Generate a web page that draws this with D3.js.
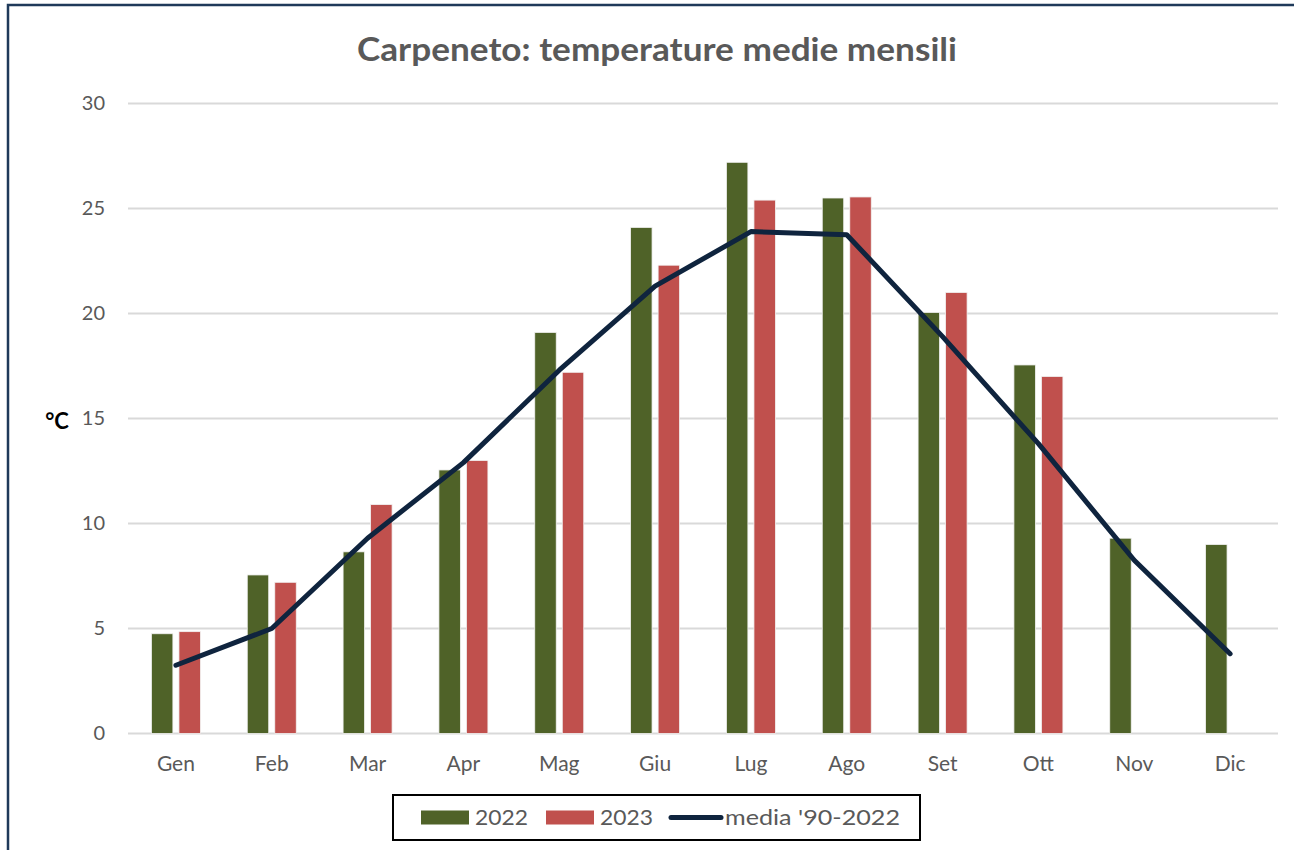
<!DOCTYPE html>
<html>
<head>
<meta charset="utf-8">
<script src="https://cdn.jsdelivr.net/npm/d3@7"></script>
<style>
  body { margin: 0; background: #fff; }
  svg { display: block; }
</style>
</head>
<body>
<script>
// monthly mean temperatures, Carpeneto
var months = ['Gen', 'Feb', 'Mar', 'Apr', 'Mag', 'Giu', 'Lug', 'Ago', 'Set', 'Ott', 'Nov', 'Dic'];
var t2022 = [4.75, 7.55, 8.65, 12.55, 19.1, 24.1, 27.2, 25.5, 20.05, 17.55, 9.3, 9.0];
var t2023 = [4.85, 7.2, 10.9, 13.0, 17.2, 22.3, 25.4, 25.55, 21.0, 17.0, null, null];
var media = [3.25, 5.0, 9.3, 12.9, 17.3, 21.3, 23.9, 23.75, 18.9, 13.8, 8.25, 3.8];
var yTicks = [0, 5, 10, 15, 20, 25, 30];

var chart = {
  width: 1294,
  height: 850,
  left: 128,
  right: 1278,
  top: 103.5,
  bottom: 733.5
};

var svg = d3.select('body').append('svg')
  .attr('width', chart.width)
  .attr('height', chart.height);

// outer frame (runs off the right and bottom edge)
svg.append('rect')
  .attr('x', 8).attr('y', 5)
  .attr('width', chart.width + 20).attr('height', chart.height + 20)
  .attr('fill', 'none').attr('stroke', '#1f3a5a').attr('stroke-width', 2.5);

svg.append('text')
  .attr('x', 657).attr('y', 61)
  .attr('text-anchor', 'middle')
  .attr('font-family', 'Lato, sans-serif')
  .attr('font-weight', 'bold')
  .attr('font-size', 33)
  .attr('fill', '#595959')
  .attr('textLength', 600)
  .attr('lengthAdjust', 'spacingAndGlyphs')
  .text('Carpeneto: temperature medie mensili');

var x0 = d3.scaleBand().domain(months).range([chart.left, chart.right]);
var x1 = d3.scaleBand().domain(['2022', '2023']).range([-24.5, 24.5]).paddingInner(0.22);
var y = d3.scaleLinear().domain([0, 30]).range([chart.bottom, chart.top]);

// gridlines
svg.append('g').selectAll('line')
  .data(yTicks)
  .enter().append('line')
  .attr('x1', chart.left).attr('x2', chart.right)
  .attr('y1', function(d) { return y(d); })
  .attr('y2', function(d) { return y(d); })
  .attr('stroke', '#d9d9d9').attr('stroke-width', 2);

var yAxis = svg.append('g')
  .attr('transform', 'translate(' + (chart.left - 23) + ',0)')
  .call(d3.axisLeft(y).tickValues(yTicks).tickSize(0).tickPadding(0));
yAxis.select('.domain').remove();
yAxis.selectAll('text')
  .attr('font-family', 'Lato, sans-serif')
  .attr('font-size', 20)
  .attr('fill', '#595959');

var xAxis = svg.append('g')
  .attr('transform', 'translate(0,' + chart.bottom + ')')
  .call(d3.axisBottom(x0).tickSize(0).tickPadding(23));
xAxis.select('.domain').remove();
xAxis.selectAll('text')
  .attr('font-family', 'Lato, sans-serif')
  .attr('font-size', 21)
  .attr('fill', '#595959');

svg.append('text')
  .attr('x', 57).attr('y', 429)
  .attr('text-anchor', 'middle')
  .attr('font-family', 'Lato, sans-serif')
  .attr('font-weight', 'bold')
  .attr('font-size', 22)
  .attr('fill', '#000')
  .text('°C');

var series = [
  { key: '2022', values: t2022, color: '#4f6228' },
  { key: '2023', values: t2023, color: '#c0504d' }
];

series.forEach(function(s) {
  svg.append('g').selectAll('rect')
    .data(months.map(function(m, i) { return { m: m, v: s.values[i] }; }).filter(function(d) { return d.v != null; }))
    .enter().append('rect')
    .attr('x', function(d) { return x0(d.m) + x0.bandwidth() / 2 + x1(s.key); })
    .attr('width', x1.bandwidth())
    .attr('y', function(d) { return y(d.v); })
    .attr('height', function(d) { return y(0) - y(d.v); })
    .attr('fill', s.color)
    .attr('stroke', '#f2f2f2').attr('stroke-width', 0.8);
});

var line = d3.line()
  .x(function(d, i) { return x0(months[i]) + x0.bandwidth() / 2; })
  .y(function(d) { return y(d); });

svg.append('path')
  .datum(media)
  .attr('d', line)
  .attr('fill', 'none')
  .attr('stroke', '#0f243e')
  .attr('stroke-width', 5)
  .attr('stroke-linecap', 'round')
  .attr('stroke-linejoin', 'round');

// legend
var legend = svg.append('g');
legend.append('rect')
  .attr('x', 393).attr('y', 795)
  .attr('width', 527).attr('height', 45)
  .attr('fill', '#fff').attr('stroke', '#000').attr('stroke-width', 2);

var legendItems = [
  { label: '2022', color: '#4f6228', x: 421, type: 'rect', w: 53 },
  { label: '2023', color: '#c0504d', x: 546, type: 'rect', w: 53 },
  { label: "media '90-2022", color: '#0f243e', x: 671, type: 'line', w: 175 }
];

legendItems.forEach(function(d) {
  if (d.type === 'rect') {
    legend.append('rect')
      .attr('x', d.x).attr('y', 810.5)
      .attr('width', 48).attr('height', 14)
      .attr('fill', d.color);
  } else {
    legend.append('line')
      .attr('x1', d.x).attr('x2', d.x + 50)
      .attr('y1', 817.5).attr('y2', 817.5)
      .attr('stroke', d.color).attr('stroke-width', 5)
      .attr('stroke-linecap', 'round');
  }
  legend.append('text')
    .attr('x', d.x + 54)
    .attr('y', 825)
    .attr('font-family', 'Lato, sans-serif')
    .attr('font-size', 22)
    .attr('fill', '#595959')
    .attr('textLength', d.w)
    .attr('lengthAdjust', 'spacingAndGlyphs')
    .text(d.label);
});
</script>
</body>
</html>
